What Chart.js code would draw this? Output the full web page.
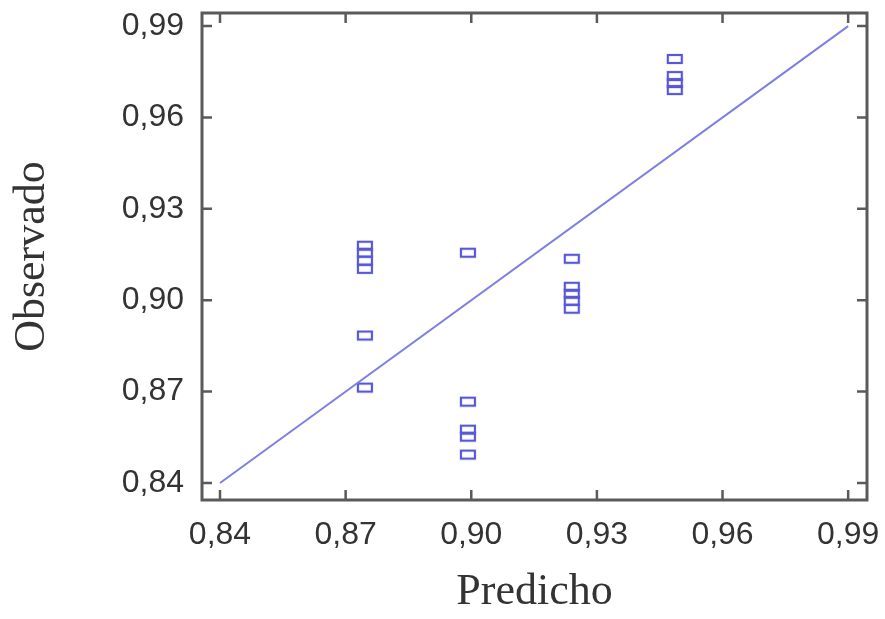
<!DOCTYPE html>
<html>
<head>
<meta charset="utf-8">
<script src="https://cdn.jsdelivr.net/npm/chart.js@4/dist/chart.umd.min.js"></script>
<style>
  html, body { margin: 0; padding: 0; background: #fff; }
  #wrap { width: 885px; height: 619px; }
</style>
</head>
<body>
<div id="wrap"><canvas id="chart" width="885" height="619"></canvas></div>
<script>
// Datos
const predicho = [0.8746, 0.8746, 0.8746, 0.8746, 0.8746, 0.8746,
                  0.8992, 0.8992, 0.8992, 0.8992, 0.8992,
                  0.9240, 0.9240, 0.9240, 0.9240, 0.9240,
                  0.9486, 0.9486, 0.9486, 0.9486];
const observado = [0.9179, 0.9156, 0.9130, 0.9103, 0.8884, 0.8713,
                   0.9156, 0.8667, 0.8575, 0.8552, 0.8493,
                   0.9136, 0.9044, 0.9021, 0.8998, 0.8972,
                   0.9792, 0.9736, 0.9713, 0.9690];
const lineaX = [0.84, 0.99];
const lineaY = [0.84, 0.99];
const tickValues = [0.84, 0.87, 0.90, 0.93, 0.96, 0.99];

const FRAME = '#5a5a5a';

// marcador rectangular hueco
function makeBox() {
    const c = document.createElement('canvas');
    c.width = 18; c.height = 12;
    const ctx = c.getContext('2d');
    ctx.strokeStyle = '#5757d9';
    ctx.lineWidth = 2.2;
    ctx.strokeRect(2, 2, 14, 8);
    return c;
}

const fmt = v => v.toFixed(2).replace('.', ',');

// marco y marcas hacia adentro en los cuatro lados
const framePlugin = {
    id: 'frame',
    afterDraw(chart) {
        const { ctx, chartArea: a, scales } = chart;
        ctx.save();
        ctx.strokeStyle = FRAME;
        ctx.lineWidth = 2.5;
        const len = 10;
        tickValues.forEach(v => {
            const px = scales.x.getPixelForValue(v);
            const py = scales.y.getPixelForValue(v);
            ctx.beginPath();
            ctx.moveTo(px, a.bottom); ctx.lineTo(px, a.bottom - len);
            ctx.moveTo(px, a.top); ctx.lineTo(px, a.top + len);
            ctx.moveTo(a.left, py); ctx.lineTo(a.left + len, py);
            ctx.moveTo(a.right, py); ctx.lineTo(a.right - len, py);
            ctx.stroke();
        });
        ctx.lineWidth = 3;
        ctx.strokeRect(a.left, a.top, a.right - a.left, a.bottom - a.top);
        ctx.restore();
    }
};

new Chart(document.getElementById('chart'), {
    type: 'scatter',
    data: {
        datasets: [{
            type: 'line',
            data: lineaX.map((x, i) => ({ x: x, y: lineaY[i] })),
            borderColor: '#7f7fe3',
            borderWidth: 2,
            pointRadius: 0,
            fill: false
        }, {
            data: predicho.map((x, i) => ({ x: x, y: observado[i] })),
            pointStyle: makeBox(),
            pointRadius: 8
        }]
    },
    options: {
        responsive: false,
        animation: false,
        layout: { padding: { top: 13, right: 18, left: 0, bottom: 0 } },
        plugins: { legend: { display: false }, tooltip: { enabled: false } },
        scales: {
            x: {
                type: 'linear',
                min: 0.8357,
                max: 0.9945,
                afterBuildTicks: s => { s.ticks = tickValues.map(v => ({ value: v })); },
                afterFit: s => { s.height = 119; s.paddingLeft = 0; s.paddingRight = 0; },
                grid: { display: false, drawTicks: false },
                border: { display: false },
                ticks: {
                    padding: 16,
                    color: '#333',
                    font: { family: 'Liberation Sans', size: 32 },
                    callback: v => fmt(v),
                    maxRotation: 0
                },
                title: {
                    display: true,
                    text: 'Predicho',
                    color: '#333',
                    font: { family: 'Liberation Serif', size: 44 },
                    padding: { top: 0, bottom: 0 }
                }
            },
            y: {
                type: 'linear',
                min: 0.8344,
                max: 0.9943,
                afterBuildTicks: s => { s.ticks = tickValues.map(v => ({ value: v })); },
                afterFit: s => { s.width = 202; s.paddingTop = 0; s.paddingBottom = 0; },
                grid: { display: false, drawTicks: false },
                border: { display: false },
                ticks: {
                    padding: 18,
                    color: '#333',
                    font: { family: 'Liberation Sans', size: 32 },
                    callback: v => fmt(v)
                },
                title: {
                    display: true,
                    text: 'Observado',
                    color: '#333',
                    font: { family: 'Liberation Serif', size: 44 },
                    padding: { top: 6, bottom: 0 }
                }
            }
        }
    },
    plugins: [framePlugin]
});
</script>
</body>
</html>
